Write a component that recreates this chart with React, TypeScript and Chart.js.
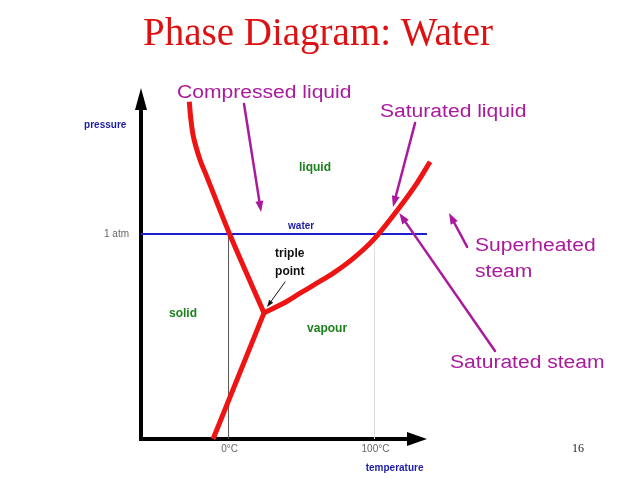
import React, { useEffect, useRef } from 'react';
import { Chart, registerables } from 'chart.js';

Chart.register(...registerables);

// ---- data (schematic units: temperature °C, pressure atm) ----
const titleText = 'Phase Diagram: Water';
const pageNumber = '16';

const fusionT = [-26.9, -25.9, -24.1, -19.5, -14.9, 0.7, 24.3];
const fusionP = [1.645, 1.564, 1.475, 1.361, 1.28, 1.0, 0.615];

const sublimationT = [-10.6, 24.3];
const sublimationP = [0, 0.615];

const vaporT = [24.3, 37.6, 49.0, 60.5, 71.8, 85.5, 99.2, 117.5, 129.0, 138.1];
const vaporP = [0.615, 0.662, 0.711, 0.76, 0.809, 0.881, 0.971, 1.133, 1.247, 1.352];

const tempRange = [-60, 136];
const pressureRange = [0, 1.712];

const xTickValues = [0, 100];
const xTickLabels = ['0°C', '100°C'];
const yTickValues = [1];
const yTickLabels = ['1 atm'];

const xAxisTitle = 'temperature';
const yAxisTitle = 'pressure';

const regionLabels = ['liquid', 'solid', 'vapour'];
const lineLabel = 'water';
const tripleLabel = ['triple', 'point'];

const calloutLabels = ['Compressed liquid', 'Saturated liquid', 'Superheated\nsteam', 'Saturated steam'];
// arrow tail / head in data units
const calloutArrowFromT = [10.6, 127.8, 163.5, 182.6];
const calloutArrowFromP = [1.634, 1.541, 0.937, 0.429];
const calloutArrowToT = [22.3, 112.7, 151.1, 117.0];
const calloutArrowToP = [1.107, 1.132, 1.102, 1.102];

const tripleArrowFrom = [38.7, 0.766];
const tripleArrowTo = [26.4, 0.644];

const toPts = (xs: number[], ys: number[]) => xs.map((x, i) => ({ x, y: ys[i] }));

const RED = '#ee1414';
const MAGENTA = '#aa1a9c';
const GREEN = '#1c801c';
const BLUE_TXT = '#1c1ca8';

function drawText(
  ctx: CanvasRenderingContext2D,
  text: string,
  x: number,
  y: number,
  font: string,
  color: string,
  align: CanvasTextAlign = 'left',
  sx = 1
) {
  ctx.save();
  ctx.font = font;
  ctx.fillStyle = color;
  ctx.textAlign = align;
  ctx.textBaseline = 'middle';
  ctx.translate(x, y);
  ctx.scale(sx, 1);
  ctx.fillText(text, 0, 0);
  ctx.restore();
}

function arrow(
  ctx: CanvasRenderingContext2D,
  x1: number,
  y1: number,
  x2: number,
  y2: number,
  color: string,
  width: number,
  headLen: number,
  headW: number
) {
  const ang = Math.atan2(y2 - y1, x2 - x1);
  const bx = x2 - headLen * Math.cos(ang);
  const by = y2 - headLen * Math.sin(ang);
  ctx.save();
  ctx.strokeStyle = color;
  ctx.fillStyle = color;
  ctx.lineWidth = width;
  ctx.lineCap = 'round';
  ctx.beginPath();
  ctx.moveTo(x1, y1);
  ctx.lineTo(bx, by);
  ctx.stroke();
  ctx.beginPath();
  ctx.moveTo(x2, y2);
  ctx.lineTo(bx + (headW / 2) * Math.sin(ang), by - (headW / 2) * Math.cos(ang));
  ctx.lineTo(bx - (headW / 2) * Math.sin(ang), by + (headW / 2) * Math.cos(ang));
  ctx.closePath();
  ctx.fill();
  ctx.restore();
}

const decorPlugin = {
  id: 'decor',
  beforeDatasetsDraw(chart: any) {
    const ctx: CanvasRenderingContext2D = chart.ctx;
    const xs = chart.scales.x;
    const ys = chart.scales.y;
    const x0 = xs.getPixelForValue(tempRange[0]);
    const x1 = xs.getPixelForValue(tempRange[1]);
    const y0 = ys.getPixelForValue(pressureRange[0]);
    const y1 = ys.getPixelForValue(pressureRange[1]);
    ctx.save();
    ctx.fillStyle = '#000';
    // y axis
    ctx.fillRect(x0 - 2, y1 + 18, 4, y0 - y1 - 16);
    ctx.beginPath();
    ctx.moveTo(x0, y1);
    ctx.lineTo(x0 - 6, y1 + 22);
    ctx.lineTo(x0 + 6, y1 + 22);
    ctx.closePath();
    ctx.fill();
    // x axis
    ctx.fillRect(x0 - 2, y0 - 2, x1 - x0 - 16, 4);
    ctx.beginPath();
    ctx.moveTo(x1, y0);
    ctx.lineTo(x1 - 20, y0 - 7);
    ctx.lineTo(x1 - 20, y0 + 7);
    ctx.closePath();
    ctx.fill();
    ctx.restore();
  },
  afterDraw(chart: any) {
    const ctx: CanvasRenderingContext2D = chart.ctx;
    const xs = chart.scales.x;
    const ys = chart.scales.y;
    const px = (t: number) => xs.getPixelForValue(t);
    const py = (p: number) => ys.getPixelForValue(p);

    // title + page number
    ctx.save();
    ctx.font = '39px "Liberation Serif", "Times New Roman", serif';
    ctx.fillStyle = '#dd1111';
    ctx.textAlign = 'center';
    ctx.textBaseline = 'alphabetic';
    ctx.fillText(titleText, 318, 45);
    ctx.font = '12px "Liberation Serif", serif';
    ctx.fillStyle = '#222';
    ctx.textAlign = 'left';
    ctx.fillText(pageNumber, 572, 452);
    ctx.restore();

    // tick labels
    const tickFont = '10px "Liberation Sans", Arial, sans-serif';
    xTickValues.forEach((v, i) => drawText(ctx, xTickLabels[i], px(v) + 1, py(0) + 10, tickFont, '#666', 'center'));
    yTickValues.forEach((v, i) => drawText(ctx, yTickLabels[i], px(tempRange[0]) - 12, py(v), tickFont, '#666', 'right'));

    // axis titles
    const axFont = 'bold 10px "Liberation Sans", Arial, sans-serif';
    drawText(ctx, yAxisTitle, px(-99), py(1.532), axFont, BLUE_TXT, 'left');
    drawText(ctx, xAxisTitle, px(94), py(-0.141), axFont, BLUE_TXT, 'left');

    // region labels
    const regFont = 'bold 12px "Liberation Sans", Arial, sans-serif';
    const regPos = [
      [48.3, 1.322],
      [-40.8, 0.61],
      [53.8, 0.537],
    ];
    regionLabels.forEach((s, i) => drawText(ctx, s, px(regPos[i][0]), py(regPos[i][1]), regFont, GREEN, 'left'));
    drawText(ctx, lineLabel, px(40.8), py(1.039), axFont, BLUE_TXT, 'left');
    drawText(ctx, tripleLabel[0], px(31.9), py(0.902), 'bold 12px "Liberation Sans", Arial, sans-serif', '#111', 'left');
    drawText(ctx, tripleLabel[1], px(31.9), py(0.815), 'bold 12px "Liberation Sans", Arial, sans-serif', '#111', 'left');
    arrow(ctx, px(tripleArrowFrom[0]), py(tripleArrowFrom[1]), px(tripleArrowTo[0]), py(tripleArrowTo[1]), '#111', 1, 7, 5);

    // callouts
    const cFont = '18px "Liberation Sans", Arial, sans-serif';
    const cPos = [
      [-35.3, 1.688],
      [103.8, 1.595],
      [168.9, 0.941],
      [151.8, 0.371],
    ];
    calloutLabels.forEach((s, i) => {
      const lines = s.split('\n');
      lines.forEach((ln, j) => drawText(ctx, ln, px(cPos[i][0]), py(cPos[i][1]) + j * 26, cFont, MAGENTA, 'left', 1.17));
      arrow(
        ctx,
        px(calloutArrowFromT[i]),
        py(calloutArrowFromP[i]),
        px(calloutArrowToT[i]),
        py(calloutArrowToP[i]),
        MAGENTA,
        2.5,
        11,
        8
      );
    });
  },
};

export default function App() {
  const ref = useRef<HTMLCanvasElement | null>(null);
  useEffect(() => {
    if (!ref.current) return;
    const curve = (label: string, data: any[], extra: any) => ({
      label,
      data,
      showLine: true,
      borderColor: RED,
      borderWidth: 5,
      pointRadius: 0,
      borderJoinStyle: 'round',
      borderCapStyle: 'butt',
      clip: false,
      ...extra,
    });
    const chart = new Chart(ref.current, {
      type: 'scatter',
      data: {
        datasets: [
          curve('fusion', toPts(fusionT, fusionP), { tension: 0.3 }),
          curve('sublimation', toPts(sublimationT, sublimationP), { tension: 0 }),
          curve('vaporization', toPts(vaporT, vaporP), { cubicInterpolationMode: 'monotone' }),
          {
            label: '1 atm',
            data: toPts([tempRange[0], tempRange[1]], [yTickValues[0], yTickValues[0]]),
            showLine: true,
            borderColor: '#1c1cd0',
            borderWidth: 2,
            pointRadius: 0,
            clip: false,
          },
          {
            label: '0C',
            data: toPts([xTickValues[0], xTickValues[0]], [0, yTickValues[0]]),
            showLine: true,
            borderColor: '#555',
            borderWidth: 1,
            pointRadius: 0,
          },
          {
            label: '100C',
            data: toPts([xTickValues[1], xTickValues[1]], [0, yTickValues[0]]),
            showLine: true,
            borderColor: '#dddddd',
            borderWidth: 1,
            pointRadius: 0,
          },
        ] as any,
      },
      options: {
        responsive: false,
        animation: false,
        devicePixelRatio: 1,
        layout: { padding: { left: 141, right: 211, top: 88, bottom: 40 } },
        plugins: { legend: { display: false }, tooltip: { enabled: false }, title: { display: false } },
        scales: {
          x: { type: 'linear', min: tempRange[0], max: tempRange[1], display: false },
          y: { type: 'linear', min: pressureRange[0], max: pressureRange[1], display: false },
        },
        events: [],
      },
      plugins: [decorPlugin],
    });
    return () => chart.destroy();
  }, []);
  return (
    <div style={{ position: 'fixed', left: 0, top: 0, width: 638, height: 479, background: '#fff' }}>
      <canvas ref={ref} width={638} height={479} style={{ width: 638, height: 479 }} />
    </div>
  );
}
